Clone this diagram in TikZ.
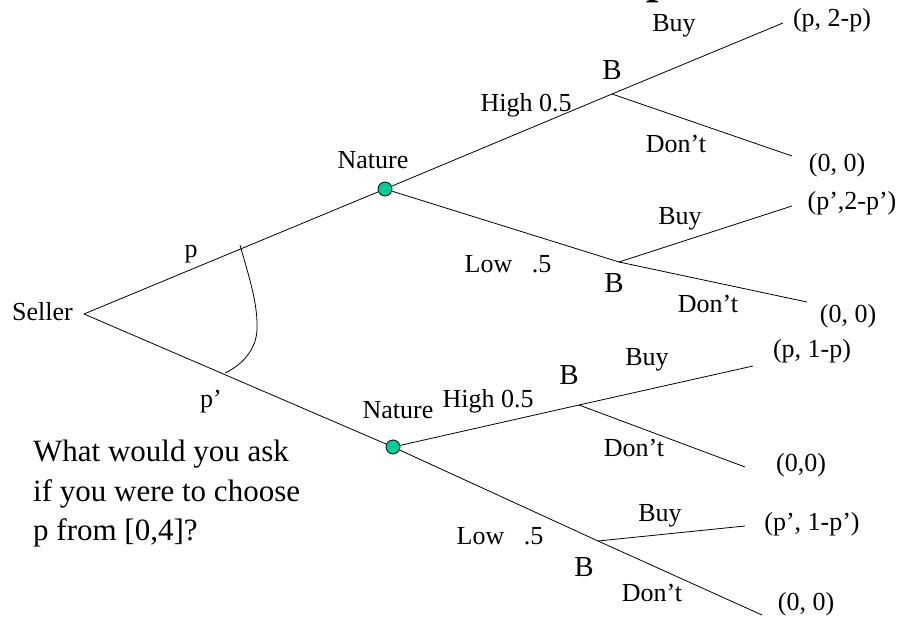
\documentclass[tikz,border=0pt]{standalone}
\usepackage{fontspec}
\setmainfont{Liberation Serif}
\definecolor{naturegreen}{RGB}{0,204,153}
\begin{document}
\begin{tikzpicture}[x=1pt,y=-1pt,
  lab/.style={inner sep=0pt,anchor=base,font=\fontsize{26}{30}\selectfont},
  blab/.style={inner sep=0pt,anchor=base,font=\fontsize{29}{32}\selectfont},
  edge/.style={line width=0.8pt,black},
  chance/.style={circle,draw=black,line width=0.8pt,fill=naturegreen,minimum size=14pt,inner sep=0pt}]
\useasboundingbox (0,0) rectangle (914,617);
% title fragment (cut off at the top)
\begin{scope}
\clip (0,0) rectangle (914,617);
\node[inner sep=0pt,anchor=base west,font=\bfseries\fontsize{44}{50}\selectfont] (title) at (646,-6) {p};
\end{scope}
% nodes
\coordinate (S) at (84,314);
\node[chance] (N1) at (385,189) {};
\node[chance] (N2) at (393,447) {};
\coordinate (B1) at (612,94);
\coordinate (B2) at (619,262);
\coordinate (B3) at (579,405);
\coordinate (B4) at (598,541);
\coordinate (E1) at (783,23);
\coordinate (E2) at (792,156);
\coordinate (E3) at (792,206);
\coordinate (E4) at (807,302);
\coordinate (E5) at (753,366);
\coordinate (E6) at (745,467);
\coordinate (E7) at (745,526);
\coordinate (E8) at (762,615);
% connectors
\draw[edge] (S) -- (N1);
\draw[edge] (S) -- (N2);
\draw[edge] (N1) -- (B1);
\draw[edge] (N1) -- (B2);
\draw[edge] (N2) -- (B3);
\draw[edge] (N2) -- (B4);
\draw[edge] (B1) -- (E1);
\draw[edge] (B1) -- (E2);
\draw[edge] (B2) -- (E3);
\draw[edge] (B2) -- (E4);
\draw[edge] (B3) -- (E5);
\draw[edge] (B3) -- (E6);
\draw[edge] (B4) -- (E7);
\draw[edge] (B4) -- (E8);
% information set curve
\coordinate (I1) at (240,245);
\coordinate (I2) at (225,373);
\draw[line width=0.8pt] (I1) .. controls (250,280) and (258,305) .. (257,330)
  .. controls (256,350) and (242,365) .. (I2);
% labels
\node[lab,anchor=base east] (seller) at (73,321) {Seller};
\node[lab] (lp) at (191,258) {p};
\node[lab] (lpp) at (211,408) {p’};
\node[lab] (nat1) at (373,169) {Nature};
\node[lab] (nat2) at (398,419) {Nature};
\node[lab] (h1) at (526,112) {High 0.5};
\node[lab] (h2) at (488,408) {High 0.5};
\node[lab] (l1) at (508,273) {Low\hspace{0.75em}.5};
\node[lab] (l2) at (500,545) {Low\hspace{0.75em}.5};
\node[blab] (b1) at (612,80) {B};
\node[blab] (b2) at (614,293) {B};
\node[blab] (b3) at (569,385) {B};
\node[blab] (b4) at (584,577) {B};
\node[lab] (buy1) at (674,32) {Buy};
\node[lab] (buy2) at (680,225) {Buy};
\node[lab] (buy3) at (647,366) {Buy};
\node[lab] (buy4) at (660,522) {Buy};
\node[lab] (dont1) at (676,153) {Don’t};
\node[lab] (dont2) at (708,313) {Don’t};
\node[lab] (dont3) at (634,457) {Don’t};
\node[lab] (dont4) at (652,602) {Don’t};
\node[lab] (p1) at (832,27) {(p, 2-p)};
\node[lab] (p2) at (837,172) {(0, 0)};
\node[lab] (p3) at (852,210) {(p’,2-p’)};
\node[lab] (p4) at (848,323) {(0, 0)};
\node[lab] (p5) at (812,358) {(p, 1-p)};
\node[lab] (p6) at (801,472) {(0,0)};
\node[lab] (p7) at (812,531) {(p’, 1-p’)};
\node[lab] (p8) at (806,611) {(0, 0)};
% question
\node[inner sep=0pt,anchor=base west,font=\fontsize{31}{40}\selectfont] (q1) at (33,462) {What would you ask};
\node[inner sep=0pt,anchor=base west,font=\fontsize{31}{40}\selectfont] (q2) at (33,502) {if you were to choose};
\node[inner sep=0pt,anchor=base west,font=\fontsize{31}{40}\selectfont] (q3) at (33,541) {p from [0,4]?};
\end{tikzpicture}
\end{document}
